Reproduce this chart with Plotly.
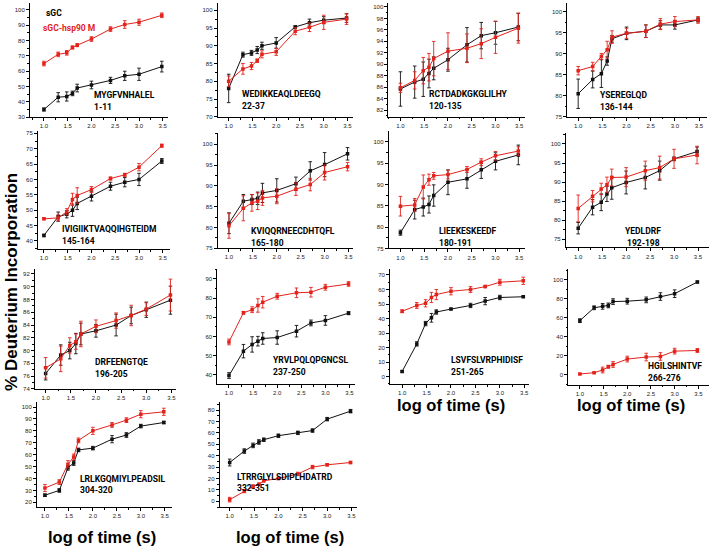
import plotly.graph_objects as go

W, H = 713, 551

# ---------------- data ----------------
log_time = [1.0, 1.30, 1.48, 1.60, 1.70, 2.0, 2.40, 2.70, 3.0, 3.48]

peptide_names = ["MYGFVNHALEL", "WEDIKKEAQLDEEGQ", "RCTDADKGKGLILHY", "YSEREGLQD",
                 "IVIGIIKTVAQQIHGTEIDM", "KVIQQRNEECDHTQFL", "LIEEKESKEEDF", "YEDLDRF",
                 "DRFEENGTQE", "YRVLPQLQPGNCSL", "LSVFSLVRPHIDISF", "HGILSHINTVF",
                 "LRLKGQMIYLPEADSIL", "LTRRGLYLSDIPLHDATRD"]
residue_ranges = ["1-11", "22-37", "120-135", "136-144", "145-164", "165-180", "180-191",
                  "192-198", "196-205", "237-250", "251-265", "266-276", "304-320", "332-351"]

sgc_values = [
    [35, 43, 43.5, 45.5, 49, 51, 54, 57, 58, 63],
    [78, 87.5, 88, 88.8, 90, 90.8, 95.3, 96.5, 97.2, 97.8],
    [85.7, 86.9, 87.4, 88.4, 89.3, 90.8, 93.4, 95.0, 95.5, 96.5],
    [80.5, 83.9, 85.3, 88.3, 93.6, 94.9, 95.4, 96.9, 96.9, 98.1],
    [41.8, 47.9, 48.7, 50.0, 52.2, 54.5, 57.8, 59.1, 60.0, 66.0],
    [81.0, 86.3, 86.7, 87.0, 88.3, 88.9, 90.5, 93.6, 95.1, 97.7],
    [78.7, 84.1, 84.7, 85.3, 87.4, 90.5, 91.3, 93.4, 95.4, 96.9],
    [77.9, 83.4, 84.7, 86.9, 88.5, 89.9, 91.2, 93.0, 96.1, 98.0],
    [76.4, 79.3, 80.0, 81.1, 82.6, 83.1, 84.0, 85.5, 86.4, 87.9],
    [39.7, 52.4, 55.9, 57.6, 59.0, 59.5, 62.8, 67.1, 68.4, 72.2],
    [3.5, 22.5, 36.5, 40.5, 44.5, 46.5, 49.0, 52.0, 54.5, 55.0],
    [57, 70.5, 72, 73, 77, 77.4, 78.8, 82.3, 85.3, 97.5],
    [26, 30, 49, 53, 64, 65.5, 73, 76.5, 84, 87],
    [34, 44, 49, 52, 54, 57.5, 60, 62, 72, 79],
]
sgc_errors = [
    [1, 3, 3, 1.5, 2.5, 2.5, 2, 3, 4, 3.5],
    [4, 0.7, 0.7, 1, 1, 1.5, 0.3, 1, 1, 1.2],
    [3, 2.8, 3, 2.5, 2, 2, 3, 2.3, 2, 2.4],
    [3.5, 2, 3.3, 1, 0.8, 1.5, 1.5, 1, 1, 0.5],
    [0.4, 1.5, 1.2, 2, 2, 1.5, 1.3, 1.5, 2, 0.8],
    [2.5, 1.6, 1.2, 1.5, 2.3, 2.8, 1.6, 2.2, 2.9, 1.5],
    [0.6, 2.2, 2.1, 2, 2.5, 2.9, 2.2, 2, 2, 2.3],
    [1.5, 2, 2.2, 2, 3, 3, 3, 2.5, 0.5, 1.2],
    [1, 1.6, 1.3, 1.6, 1.7, 1, 1.7, 1.3, 1.2, 2.2],
    [1.5, 3.5, 4, 2.5, 3, 3.5, 3, 1.5, 2.5, 0.8],
    [0.5, 1.5, 1.5, 3, 1.5, 0.5, 1.5, 2.5, 1.5, 0.5],
    [2, 2, 3, 2.5, 3, 3, 3, 4, 4, 1],
    [1, 1.5, 2, 2, 1.5, 1.5, 3, 2, 1.5, 1],
    [3, 2, 2, 2, 1.5, 1.5, 1.5, 1.5, 1.5, 1.5],
]
hsp_values = [
    [65, 71, 72, 75.5, 77, 81, 87.5, 90.5, 92, 96.5],
    [80, 83.5, 84.3, 85.8, 87.6, 88.3, 94.1, 95.2, 96.6, 97.5],
    [85.9, 87.2, 88.9, 89.5, 91.0, 92.3, 92.8, 93.6, 94.7, 96.3],
    [86.0, 87.0, 89.4, 91.0, 94.0, 94.9, 95.4, 97.1, 97.7, 98.1],
    [47.2, 47.5, 49.5, 53.5, 54.8, 56.7, 60.3, 61.5, 64.0, 71.0],
    [80.4, 84.6, 85.9, 86.3, 87.1, 87.5, 89.2, 90.3, 93.2, 94.6],
    [84.9, 85.2, 89.4, 91.1, 92.0, 92.3, 93.5, 95.2, 96.7, 97.8],
    [83.1, 86.3, 88.2, 89.3, 91.2, 91.3, 93.0, 93.8, 96.1, 97.1],
    [77.3, 78.7, 80.8, 81.4, 82.6, 83.8, 84.7, 85.5, 86.5, 88.7],
    [57.2, 72.4, 74.0, 76.2, 77.9, 81.0, 82.8, 83.1, 85.7, 87.4],
    [45, 49, 50.5, 54.5, 56.5, 58.8, 60, 62, 65, 66],
    [1, 2.4, 5.2, 8.7, 11, 16.7, 18.8, 19.4, 25, 25.7],
    [32, 37, 52, 58, 72, 80, 85, 89, 94, 96],
    [1.5, 9, 13, 15, 18, 20, 24, 30, 32, 34],
]
hsp_errors = [
    [1.5, 1.5, 1.5, 1, 1, 1.5, 1.5, 2.5, 2, 1.5],
    [1.5, 1.5, 1, 0.5, 1, 1, 1, 1.2, 2, 1.5],
    [0.8, 1.5, 2.3, 2.4, 3, 3.2, 2.5, 2.6, 2.8, 2.6],
    [1, 1, 0.7, 2, 1.5, 1.2, 1.5, 1.3, 1.2, 0.8],
    [0.3, 1, 1, 2, 2.5, 1, 0.5, 0.5, 1.2, 0.5],
    [3, 3, 2, 2, 1.8, 1.8, 1.5, 1.5, 1.8, 1],
    [2.3, 1.5, 2.8, 1.3, 0.8, 1, 0.7, 0.8, 1, 1],
    [3.5, 1.5, 1.5, 2, 2.2, 2.5, 2.5, 3, 2.5, 2.3],
    [1.6, 2, 1.2, 1.2, 2, 1, 1.2, 1.6, 1, 2.5],
    [1.5, 0.7, 1.5, 3.5, 3, 1.5, 2.5, 2.5, 1.5, 1.2],
    [1, 2, 2.5, 3.5, 3.5, 2.5, 2, 0.8, 2, 2.5],
    [0.5, 0.5, 3, 1.5, 3, 3, 4, 4, 3, 2],
    [3, 2, 3, 2.5, 2, 3, 2, 2, 3, 3],
    [2, 1.5, 1.5, 1, 1, 1, 1.5, 1.5, 1, 1],
]
y_dticks = [10, 5, 2, 5, 5, 5, 5, 5, 2, 10, 10, 20, 10, 10]

# ---------------- geometry (pixels) ----------------
# left, px(1.0), px(3.5), right, top, bottom, tickA, yA, tickB, yB
geom = [
    (30, 44, 163, 168, 2, 117, 100, 9, 30, 117),
    (218, 229, 348, 353, 2, 117, 100, 9.3, 70, 116.7),
    (389, 401, 520, 526, 2, 116.7, 100, 6, 82, 110),
    (568, 579, 700, 708, 2, 116.7, 100, 11, 75, 116.7),
    (38, 44, 163, 170, 131, 250, 75, 133.3, 40, 241.7),
    (218, 229.3, 349, 353, 133, 249, 100, 144.3, 75, 249),
    (389.3, 401, 520, 526, 131, 249.3, 100, 141.7, 75, 249.3),
    (566.7, 579, 699, 710, 133, 248.3, 100, 144, 75, 240),
    (35, 45.7, 171.7, 176, 270, 390.7, 92, 275, 74, 390.7),
    (217.7, 229.3, 350, 355, 270, 386, 90, 280, 40, 376.7),
    (390.7, 402.7, 525, 530, 270, 386, 70, 276, 0, 378.3),
    (569, 580.7, 699.3, 710, 270, 386.7, 100, 280.7, 0, 376.7),
    (37, 45, 165, 172, 404, 510, 100, 409, 20, 505),
    (220, 230, 352, 358, 404, 510, 80, 412, 0, 504),
]
# label anchor (x, y of first line), anchor type
label_pos = [
    (92, 95, "left"), (240, 94, "left"), (428, 94, "left"), (599, 95, "left"),
    (60, 230, "left"), (249, 232, "left"), (438, 232, "left"), (644, 232, "center"),
    (93, 364, "left"), (271, 362, "left"), (450, 362, "left"), (647, 368, "left"),
    (78, 481, "left"), (235, 479, "left"),
]

RED = "#e3221c"
BLACK = "#111111"
FONT = "Liberation Sans"
LABEL_FONT = "Roboto"
LABEL_SIZE = 8.5

fig = go.Figure()
layout_axes = {}
annotations = []

for i in range(14):
    left, p1, p35, right, top, bottom, ta, ya, tb, yb = geom[i]
    xppu = (p35 - p1) / 2.5
    xmin = 1.0 - (p1 - left) / xppu
    xmax = 3.5 + (right - p35) / xppu
    yppu = (yb - ya) / (ta - tb)
    ymax = ta + (ya - top) / yppu
    ymin = tb - (bottom - yb) / yppu
    n = "" if i == 0 else str(i + 1)
    xa, yaid = "x" + n, "y" + n
    common = dict(showline=True, linecolor="black", linewidth=1, ticks="outside",
                  ticklen=3, tickwidth=1, tickcolor="black", showgrid=False,
                  zeroline=False, tickfont=dict(family=FONT, size=6, color="#222"),
                  mirror=False)
    layout_axes["xaxis" + n] = dict(domain=[left / W, right / W], range=[xmin, xmax],
                                    anchor=yaid, tickmode="linear", tick0=1.0, dtick=0.5,
                                    tickformat=".1f",
                                    minor=dict(ticks="outside", ticklen=1.5, dtick=0.25,
                                               tick0=1.0, tickcolor="black"),
                                    **common)
    layout_axes["yaxis" + n] = dict(domain=[1 - bottom / H, 1 - top / H], range=[ymin, ymax],
                                    anchor=xa, tickmode="linear", tick0=0, dtick=y_dticks[i],
                                    minor=dict(ticks="outside", ticklen=1.5,
                                               dtick=y_dticks[i] / 2, tick0=0,
                                               tickcolor="black"),
                                    **common)
    for vals, errs, col in ((sgc_values[i], sgc_errors[i], BLACK),
                            (hsp_values[i], hsp_errors[i], RED)):
        fig.add_trace(go.Scatter(
            x=log_time, y=vals, xaxis=xa, yaxis=yaid, mode="lines+markers",
            line=dict(color=col, width=1),
            marker=dict(symbol="square", size=3.5, color=col),
            error_y=dict(type="data", array=errs, visible=True, color=col,
                         thickness=0.9, width=1.8),
            showlegend=False, hoverinfo="skip"))
    lx, ly, anc = label_pos[i]
    for k, txt in enumerate((peptide_names[i], residue_ranges[i])):
        annotations.append(dict(
            x=lx / W, y=1 - (ly + 11.5 * k) / H, xref="paper", yref="paper",
            text="<b>%s</b>" % txt, showarrow=False, xanchor=anc, yanchor="middle",
            font=dict(family=LABEL_FONT, size=LABEL_SIZE, color="black")))

# legend text
annotations.append(dict(x=44 / W, y=1 - 12 / H, xref="paper", yref="paper",
                        text="<b>sGC</b>", showarrow=False, xanchor="left", yanchor="middle",
                        font=dict(family=LABEL_FONT, size=LABEL_SIZE, color="black")))
annotations.append(dict(x=41 / W, y=1 - 27 / H, xref="paper", yref="paper",
                        text="<b>sGC-hsp90 M</b>", showarrow=False, xanchor="left",
                        yanchor="middle",
                        font=dict(family=LABEL_FONT, size=LABEL_SIZE, color=RED)))
# axis titles
annotations.append(dict(x=12 / W, y=1 - 283 / H, xref="paper", yref="paper",
                        text="<b>% Deuterium Incorporation</b>", showarrow=False,
                        textangle=-90, xanchor="center", yanchor="middle",
                        font=dict(family=FONT, size=17, color="black")))
for cx, cy in ((452, 407), (632, 407), (102, 540), (290, 540)):
    annotations.append(dict(x=cx / W, y=1 - cy / H, xref="paper", yref="paper",
                            text="<b>log of time (s)</b>", showarrow=False,
                            xanchor="center", yanchor="middle",
                            font=dict(family=FONT, size=16.5, color="black")))

fig.update_layout(width=W, height=H, margin=dict(l=0, r=0, t=0, b=0),
                  paper_bgcolor="white", plot_bgcolor="white",
                  annotations=annotations, **layout_axes)
fig.write_html("out.html", config={"displayModeBar": False},
               post_script="document.body.style.margin='0';document.body.style.overflow='hidden';")
